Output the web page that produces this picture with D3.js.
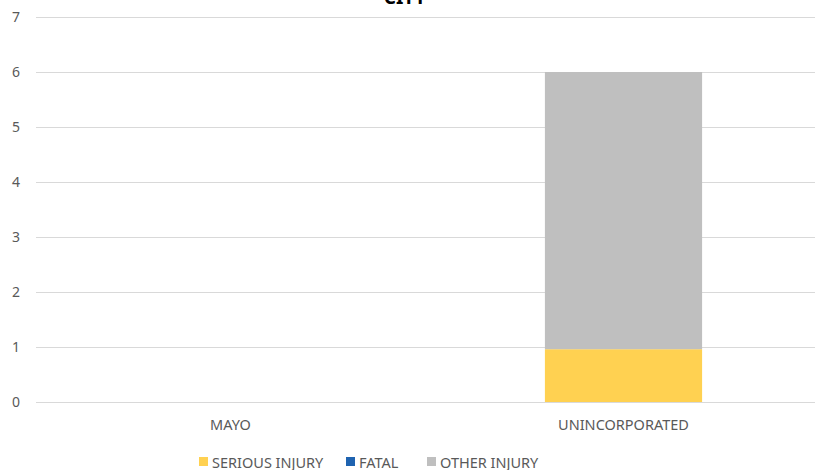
<!DOCTYPE html>
<html>
<head>
<meta charset="utf-8">
<script src="https://cdn.jsdelivr.net/npm/d3@7"></script>
<style>
  body { margin: 0; background: #fff; }
  text { font-family: "Noto Sans", "Open Sans", sans-serif; }
</style>
</head>
<body>
<div id="canvas"></div>
<script>
const title = "CITY";
const categories = ["MAYO", "UNINCORPORATED"];
const seriousInjury = [0, 0.96];
const fatal = [0, 0];
const otherInjury = [0, 5.04];
const yTicks = [0, 1, 2, 3, 4, 5, 6, 7];

const seriesNames = ["SERIOUS INJURY", "FATAL", "OTHER INJURY"];
const seriesColors = ["#FFD151", "#1F63B0", "#BFBFBF"];

const width = 815, height = 470;
const svg = d3.select("#canvas").append("svg")
  .attr("width", width).attr("height", height);

// title sits mostly above the top edge, like the reference
svg.append("text")
  .attr("x", 405).attr("y", 4)
  .attr("text-anchor", "middle")
  .style("font-size", "19px").style("font-weight", "bold")
  .attr("fill", "#000")
  .text(title);

const y = d3.scaleLinear().domain([0, 7]).range([402, 17]);
const x = d3.scaleBand().domain(categories).range([34, 820]).padding(0);

// gridlines
svg.append("g").selectAll("line").data(yTicks).enter().append("line")
  .attr("x1", 36).attr("x2", width)
  .attr("y1", d => Math.round(y(d)) + 0.5).attr("y2", d => Math.round(y(d)) + 0.5)
  .attr("stroke", "#D9D9D9").attr("stroke-width", 1);

// y axis labels
const yAxis = svg.append("g").attr("transform", "translate(20,0)")
  .call(d3.axisLeft(y).tickValues(yTicks).tickSize(0).tickPadding(0).tickFormat(d3.format("d")));
yAxis.select(".domain").remove();
yAxis.selectAll("text").attr("fill", "#595959").style("font-size", "14px");

// stacked bars
const rows = categories.map((c, i) => ({cat: c, s0: seriousInjury[i], s1: fatal[i], s2: otherInjury[i]}));
const stack = d3.stack().keys(["s0", "s1", "s2"])(rows);
const barW = x.bandwidth() * 0.4;

svg.append("g").selectAll("g").data(stack).enter().append("g")
  .attr("fill", (d, i) => seriesColors[i])
  .selectAll("rect").data(d => d).enter().append("rect")
  .attr("x", d => x(d.data.cat) + (x.bandwidth() - barW) / 2)
  .attr("y", d => y(d[1]))
  .attr("height", d => y(d[0]) - y(d[1]))
  .attr("width", barW);

// category labels
const xAxis = svg.append("g").attr("transform", "translate(0,402)")
  .call(d3.axisBottom(x).tickSize(0));
xAxis.select(".domain").remove();
xAxis.selectAll("text").attr("y", 28).attr("dy", 0)
  .attr("fill", "#595959").style("font-size", "14.5px");

// legend
const legendX = [199, 346, 427];
const legend = svg.append("g").selectAll("g").data(seriesNames).enter().append("g")
  .attr("transform", (d, i) => `translate(${legendX[i]},457)`);
legend.append("rect").attr("width", 9).attr("height", 9)
  .attr("fill", (d, i) => seriesColors[i]);
legend.append("text").attr("x", 13).attr("y", 10.5)
  .attr("fill", "#595959").style("font-size", "14.5px")
  .text(d => d);
</script>
</body>
</html>
